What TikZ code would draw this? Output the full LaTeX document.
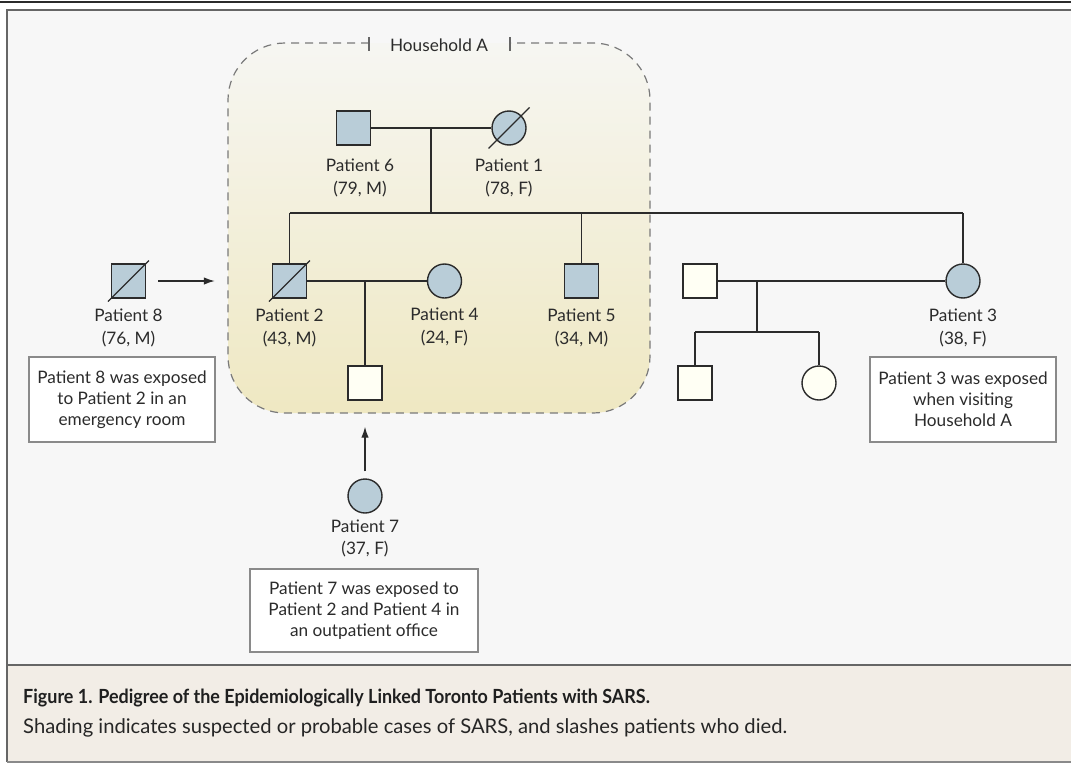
\documentclass[tikz,border=0pt]{standalone}
\usepackage{fontspec}
\setmainfont{Lato}
\newfontfamily\capbold[FakeStretch=0.92]{Lato Bold}
\usetikzlibrary{arrows.meta,calc}
\definecolor{ink}{HTML}{2B2B2B}
\definecolor{aff}{HTML}{B9CDD8}
\definecolor{unaff}{HTML}{FFFFF4}
\definecolor{panel}{HTML}{F7F7F7}
\definecolor{capbg}{HTML}{F2EDE6}
\definecolor{framec}{HTML}{666666}
\definecolor{dashc}{HTML}{7A7A7A}
\definecolor{boxc}{HTML}{8A8A8A}
\definecolor{hhtop}{HTML}{F6F6F2}
\definecolor{hhbot}{HTML}{EFE8C2}
\tikzset{
  lab/.style={font=\fontsize{17.2}{23}\selectfont, text=ink, align=center, inner sep=0},
  person/.style={draw=ink, line width=1.4pt, inner sep=0, minimum size=34pt},
  sqp/.style={person, rectangle},
  cip/.style={person, circle},
  affp/.style={fill=aff},
  unp/.style={fill=unaff},
  link/.style={draw=ink, line width=1.4pt},
  slashl/.style={draw=ink, line width=1.4pt},
  arr/.style={draw=ink, line width=1.3pt, -{Latex[length=11pt,width=7.5pt]}},
  note/.style={draw=boxc, line width=2pt, fill=white, align=center, inner sep=0,
    font=\fontsize{17.2}{21}\selectfont, text=ink},
  hh/.style={draw=dashc, line width=1.2pt, dash pattern=on 8pt off 6pt}
}
\begin{document}
\begin{tikzpicture}[x=1pt,y=-1pt]
\useasboundingbox (0,0) rectangle (1071,763);
% backgrounds
\fill[white] (0,0) rectangle (1071,763);
\fill[panel] (8,10) rectangle (1071,665);
\fill[capbg] (8,665) rectangle (1071,762);
\draw[ink, line width=2pt] (0,2) -- (1071,2);
\draw[framec, line width=2.5pt] (1071,10) -- (7,10) -- (7,762);
\draw[framec, line width=2.5pt] (7,665) -- (1071,665);
\draw[boxc, line width=1.5pt] (7,762) -- (1071,762);
% household
\shade[top color=hhtop, bottom color=hhbot, rounded corners=57pt] (228,43) rectangle (650,413);
\draw[hh, rounded corners=57pt] (369,43) -- (228,43) -- (228,413) -- (650,413) -- (650,43) -- (510,43);
\draw[framec, line width=1.3pt] (369,37) -- (369,51);
\draw[framec, line width=1.3pt] (510,37) -- (510,51);
\node[lab, text=ink] (hhl) at (439,45) {Household A};
% persons
\node[sqp, affp] (p6) at (353.5,128) {};
\node[cip, affp] (p1) at (509,128) {};
\node[sqp, affp] (p8) at (128.5,281) {};
\node[sqp, affp] (p2) at (289.5,281) {};
\node[cip, affp] (p4) at (444.5,281) {};
\node[sqp, affp] (p5) at (581.5,281) {};
\node[sqp, unp] (h3) at (700,281) {};
\node[cip, affp] (p3) at (963,281) {};
\node[sqp, unp] (c1) at (365,383) {};
\node[sqp, unp] (c2) at (695,383) {};
\node[cip, unp] (c3) at (819,383) {};
\node[cip, affp] (p7) at (365,496) {};
% slashes
\draw[slashl] ($(p1)+(-20.5,20.5)$) -- ($(p1)+(20.5,-20.5)$);
\draw[slashl] ($(p2)+(-20.5,20.5)$) -- ($(p2)+(20.5,-20.5)$);
\draw[slashl] ($(p8)+(-20.5,20.5)$) -- ($(p8)+(20.5,-20.5)$);
% coordinates
\coordinate (m1) at (431,128);
\coordinate (s1) at (431,213);
\coordinate (sL) at (289.5,213);
\coordinate (sR) at (963,213);
\coordinate (m2) at (365,281);
\coordinate (m3) at (757,281);
\coordinate (s3) at (757,332);
% lines
\draw[link] (p6.east) -- (p1.west);
\draw[link] (m1) -- (s1);
\draw[link] (sL) -- (sR);
\draw[link] (sL) -- (p2.north);
\draw[link] (p5|-s1) -- (p5.north);
\draw[link] (sR) -- (p3.north);
\draw[link] (p2.east) -- (p4.west);
\draw[link] (m2) -- (c1.north);
\draw[link] (h3.east) -- (p3.west);
\draw[link] (m3) -- (s3);
\draw[link] (c2|-s3) -- (c3|-s3);
\draw[link] (c2|-s3) -- (c2.north);
\draw[link] (c3|-s3) -- (c3.north);
% arrows
\draw[arr, shorten <=12pt, shorten >=57pt] (p8) -- (p2);
\draw[arr, shorten <=7pt, shorten >=26pt] (p7) -- (c1);
% labels
\node[lab] (l6) at (360,177.5) {Patient 6\\(79, M)};
\node[lab] (l1) at (509,177.5) {Patient 1\\(78, F)};
\node[lab] (l8) at (128.5,328) {Patient 8\\(76, M)};
\node[lab] (l2) at (289.5,328) {Patient 2\\(43, M)};
\node[lab] (l4) at (444.5,327) {Patient 4\\(24, F)};
\node[lab] (l5) at (581.5,328) {Patient 5\\(34, M)};
\node[lab] (l3) at (963,328) {Patient 3\\(38, F)};
\node[lab, font=\fontsize{17.2}{21.5}\selectfont] (l7) at (365,538.5) {Patient 7\\(37, F)};
% notes
\node[note, minimum width=186pt, minimum height=85pt] (b8) at (122,399.5)
  {Patient 8 was exposed\\to Patient 2 in an\\emergency room};
\node[note, minimum width=186pt, minimum height=85pt] (b3) at (963,399.5)
  {Patient 3 was exposed\\when visiting\\Household A};
\node[note, minimum width=228pt, minimum height=83pt] (b7) at (364,610.5)
  {Patient 7 was exposed to\\Patient 2 and Patient 4 in\\an outpatient office};
% caption
\node[anchor=base west, inner sep=0, text=black!88, font=\capbold\fontsize{19.5}{22}\selectfont] (cap1) at (23,703)
  {Figure 1. Pedigree of the Epidemiologically Linked Toronto Patients with SARS.};
\node[anchor=base west, inner sep=0, text=black!85, font=\fontsize{20.2}{22}\selectfont] (cap2) at (23,733)
  {Shading indicates suspected or probable cases of SARS, and slashes patients who died.};
\end{tikzpicture}
\end{document}
